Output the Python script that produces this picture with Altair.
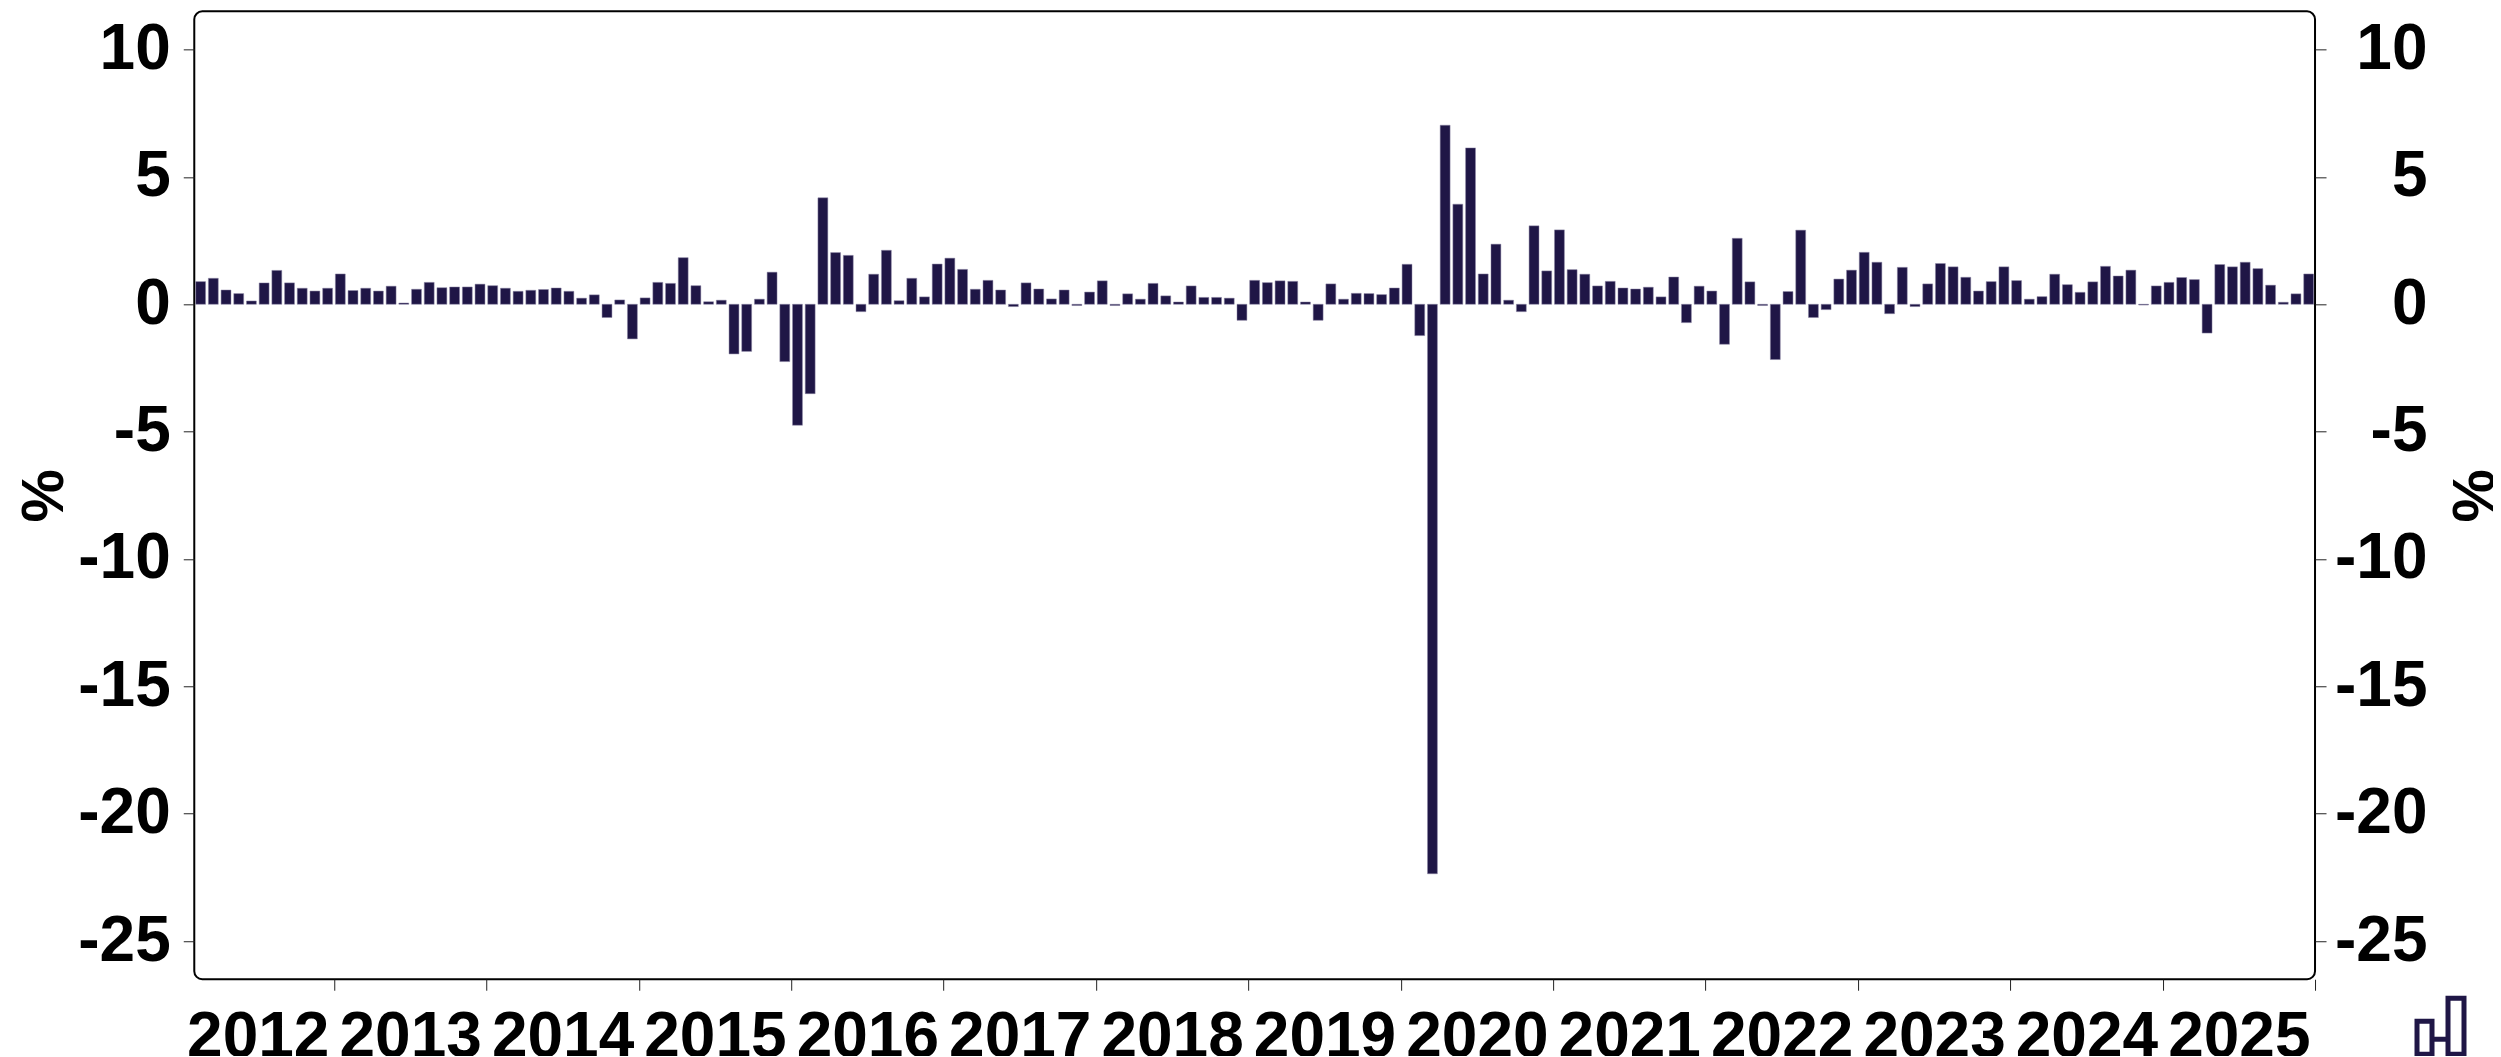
import altair as alt
import pandas as pd

values = [
 .89,1.02,.56,.42,.13,.84,1.33,.84,.63,.52,.63,1.19,.54,.63,.52,.71,.05,.59,.86,.65,.68,.68,.79,.73,.63,.51,.55,.58,.64,.51,.24,.37,-.52,.17,-1.36,.25,.86,.82,1.83,.73,.10,.16,-1.95,-1.85,.2,1.26,-2.25,-4.75,-3.51,4.18,
 2.03,1.92,-.29,1.18,2.12,.14,1.02,.29,1.58,1.81,1.37,.59,.94,.56,-.09,.84,.6,.21,.56,-.05,.48,.92,-.05,.41,.2,.82,.33,.09,.72,.27,.27,.24,-.63,.94,.85,.92,.9,.09,-.63,.8,.2,.43,.42,.38,.64,1.57,-1.23,-22.36,7.03,3.93,6.14,1.19,2.36,.16,-.29,3.08,1.31,2.92,1.36,1.18,.72,.9,.64,.6,.67,.29,
 1.07,-.72,.71,.52,-1.57,2.59,.88,-.05,-2.17,.5,2.91,-.52,-.21,.99,1.34,2.04,1.65,-.37,1.45,-.09,.8,1.6,1.47,1.06,.52,.89,1.47,.93,.2,.3,1.18,.77,.47,.88,1.49,1.11,1.34,-.03,.72,.86,1.05,.97,-1.13,1.56,1.47,1.65,1.4,.75,.08,.41,1.19,
]
years = list(range(2012, 2026))
year_ticks = [11 + 12 * i for i in range(14)]
year_mids = [5 + 12 * i for i in range(14)]
y_ticks = [10, 5, 0, -5, -10, -15, -20, -25]

df = pd.DataFrame({"i": [k + 0.11 for k in range(len(values))],
                   "i2": [k + 0.89 for k in range(len(values))],
                   "v": values})

FONT = "Liberation Sans"
COL = "#1f1646"
xs = alt.Scale(domain=[0, 167], nice=False, zero=False)
ys = alt.Scale(domain=[-26.5, 11.5], nice=False, zero=False)

def yax(orient, pad, title_x):
    return alt.Axis(orient=orient, values=y_ticks, labelExpr="'' + datum.value", grid=False, domain=False,
                    tickSize=11, tickColor="#222222", tickWidth=1,
                    labelFont=FONT, labelFontWeight="bold", labelFontSize=64, labelColor="black",
                    labelPadding=pad, labelAlign="right", title="%",
                    titleFont=FONT, titleFontWeight="bold", titleFontSize=60, titleColor="black",
                    titleAngle=270, titleBaseline="alphabetic", titleAlign="center",
                    titleX=title_x, titleY=484, labelOverlap=False)

bars = alt.Chart(df).mark_bar(color=COL, stroke="#8d88a6", strokeWidth=0.5).encode(
    x=alt.X("i:Q", scale=xs, axis=alt.Axis(orient="bottom", values=year_ticks, labels=False, grid=False, domain=False,
                                           tickSize=11, tickColor="#222222", tickWidth=1, title=None)),
    x2="i2:Q",
    y=alt.Y("v:Q", scale=ys, axis=yax("left", 13, -131.6)),
    y2=alt.datum(0),
)

right_y = alt.Chart(df).mark_point(opacity=0).encode(
    y=alt.Y("v:Q", scale=ys, axis=yax("right", 101, 179)),
)

label_expr = "'' + (2012 + (datum.value - 5) / 12)"
xlab = alt.Chart(pd.DataFrame({"m": year_mids})).mark_point(opacity=0).encode(
    x=alt.X("m:Q", scale=xs, axis=alt.Axis(orient="bottom", values=year_mids, labelExpr=label_expr, ticks=False, domain=False,
                                           grid=False, labelFont=FONT, labelFontWeight="bold", labelFontSize=64,
                                           labelColor="black", labelPadding=26, title=None, labelOverlap=False,
                                           labelFlush=False)),
)

# small logo, bottom right
logo_rects = pd.DataFrame({"a": [2223, 2254], "b": [2238, 2270], "t": [1010, 987], "u": [1043, 1043]})
logo = alt.Chart(logo_rects).mark_rect(fill=None, stroke=COL, strokeWidth=5, clip=False).encode(
    x=alt.X("a:Q", scale=None, axis=None), x2="b:Q",
    y=alt.Y("t:Q", scale=None, axis=None), y2="u:Q",
)
logo_link = alt.Chart(pd.DataFrame({"a": [2238], "b": [2254], "y": [1028]})).mark_rule(
    color=COL, strokeWidth=5, clip=False).encode(
    x=alt.X("a:Q", scale=None, axis=None), x2="b:Q",
    y=alt.Y("y:Q", scale=None, axis=None),
)

chart = alt.layer(bars, right_y, xlab, logo, logo_link).resolve_axis(x="independent", y="independent").resolve_scale(
    x="shared", y="shared"
).properties(
    width=2121, height=968,
    padding={"left": 186.3, "top": 3.3, "right": 178, "bottom": 77},
    autosize=alt.AutoSizeParams(type="none"),
    background="white",
).configure_view(stroke="black", strokeWidth=2, cornerRadius=8)

chart.save("out.html", embed_options={"renderer": "svg", "actions": False})
